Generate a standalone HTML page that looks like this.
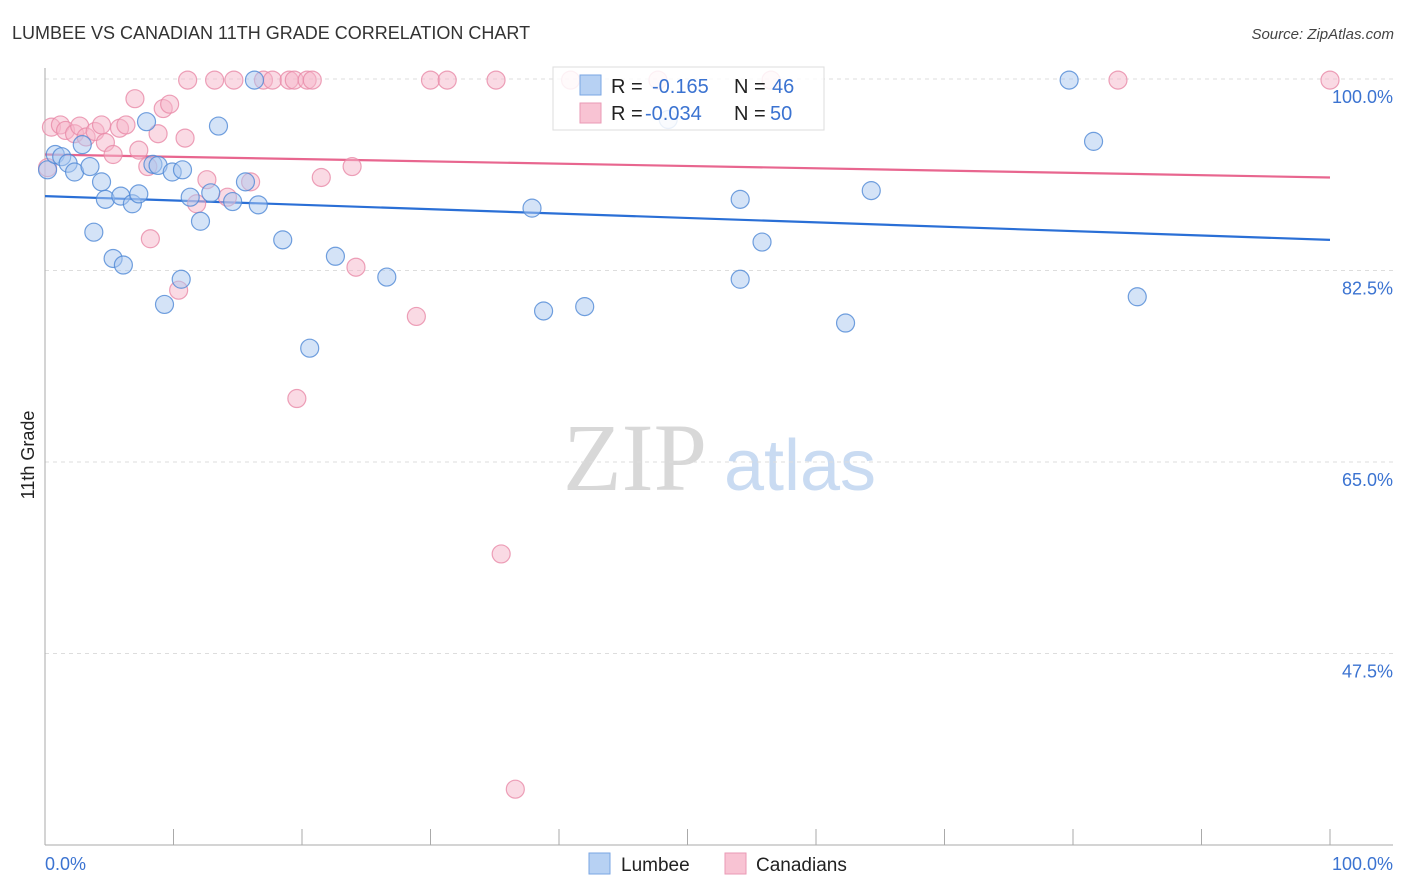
<!DOCTYPE html>
<html><head><meta charset="utf-8"><style>
body{margin:0;background:#fff;width:1406px;height:892px;overflow:hidden;font-family:"Liberation Sans",sans-serif}
svg{display:block}
</style></head><body>
<svg id="chart" width="1406" height="892" xmlns="http://www.w3.org/2000/svg">
<text x="12" y="39" font-size="18" fill="#333" font-family="Liberation Sans">LUMBEE VS CANADIAN 11TH GRADE CORRELATION CHART</text>
<text x="1394" y="39" font-size="15" fill="#444" font-style="italic" text-anchor="end">Source: ZipAtlas.com</text>
<g>
<text x="635" y="490" font-size="96" fill="#d8d8d8" font-family="Liberation Serif" text-anchor="middle">ZIP</text>
<text x="800" y="490" font-size="72" fill="#c9dbf2" text-anchor="middle">atlas</text>
</g>
<g id="grid"></g>
<g id="axes"></g>
<g id="lines"></g>
<g id="points"></g>
<text transform="translate(34,455) rotate(-90)" font-size="18" fill="#222" text-anchor="middle">11th Grade</text>
<g>
<rect x="553" y="67" width="271" height="63" fill="rgba(255,255,255,0.85)" stroke="#ddd"/>
<rect x="580" y="75" width="21" height="20" fill="#b7d1f3" stroke="#7aa6e3"/>
<rect x="580" y="103" width="21" height="20" fill="#f8c3d3" stroke="#ea9ab4"/>
<text x="611" y="93" font-size="20" fill="#222">R = </text><text x="652" y="93" font-size="20" fill="#3b73d1">-0.165</text>
<text x="734" y="93" font-size="20" fill="#222">N = </text><text x="772" y="93" font-size="20" fill="#3b73d1">46</text>
<text x="611" y="120" font-size="20" fill="#222">R = </text><text x="645" y="120" font-size="20" fill="#3b73d1">-0.034</text>
<text x="734" y="120" font-size="20" fill="#222">N = </text><text x="770" y="120" font-size="20" fill="#3b73d1">50</text>
</g>
<g>
<rect x="589" y="853" width="21" height="21" fill="#b7d1f3" stroke="#7aa6e3"/>
<text x="621" y="871" font-size="19" fill="#222">Lumbee</text>
<rect x="725" y="853" width="21" height="21" fill="#f8c3d3" stroke="#ea9ab4"/>
<text x="756" y="871" font-size="19" fill="#222">Canadians</text>
</g>
</svg>
<script>
const yTicks=[100,82.5,65,47.5];
const yTickLabels=["100.0%","82.5%","65.0%","47.5%"];
const xTickLabels=["0.0%","100.0%"];
const lumbeeX=[0.2,0.8,1.3,1.8,2.3,2.9,3.5,3.8,4.4,4.7,5.3,5.9,6.1,6.8,7.3,7.9,8.4,8.8,9.3,9.9,10.6,10.7,11.3,12.1,12.9,13.5,14.6,15.6,16.3,16.6,18.5,20.6,22.6,26.6,37.9,38.8,42.0,48.5,54.1,54.1,55.8,62.3,64.3,79.7,81.6,85.0];
const lumbeeY=[91.7,93.1,92.9,92.3,91.5,94.0,92.0,86.0,90.6,89.0,83.6,89.3,83.0,88.6,89.5,96.1,92.2,92.1,79.4,91.5,81.7,91.7,89.2,87.0,89.6,95.7,88.8,90.6,99.9,88.5,85.3,75.4,83.8,81.9,88.2,78.8,79.2,96.3,89.0,81.7,85.1,77.7,89.8,99.9,94.3,80.1];
const canX=[0.2,0.5,1.2,1.6,2.3,2.7,3.2,3.9,4.4,4.7,5.3,5.8,6.3,7.0,7.3,8.0,8.2,8.8,9.2,9.7,10.4,10.9,11.1,11.8,12.6,13.2,14.2,14.7,16.0,17.0,17.7,19.0,19.4,20.4,20.8,19.6,21.5,23.9,24.2,28.9,30.0,31.3,35.1,35.5,36.6,40.9,47.7,56.5,83.5,100];
const canY=[91.9,95.6,95.8,95.3,95.0,95.7,94.7,95.2,95.8,94.2,93.1,95.5,95.8,98.2,93.5,92.0,85.4,95.0,97.3,97.7,80.7,94.6,99.9,88.6,90.8,99.9,89.2,99.9,90.6,99.9,99.9,99.9,99.9,99.9,99.9,70.8,91.0,92.0,82.8,78.3,99.9,99.9,99.9,56.6,35.1,99.9,99.9,99.9,99.9,99.9];
const lumbeeTrend=[89.3,85.3];
const canTrend=[93.1,91.0];

const NS="http://www.w3.org/2000/svg";
const X0=45,X1=1330,Y100=79,PXPER=191.5/17.5;
const sx=v=>X0+(v/100)*(X1-X0);
const sy=v=>Y100+(100-v)*PXPER;
function mk(tag,attrs,parent){const e=document.createElementNS(NS,tag);for(const k in attrs)e.setAttribute(k,attrs[k]);parent.appendChild(e);return e;}
const grid=document.getElementById('grid'),axes=document.getElementById('axes'),lines=document.getElementById('lines'),pts=document.getElementById('points');
yTicks.forEach((t,i)=>{
  const l=mk('line',{x1:45,x2:1393,y1:sy(t),y2:sy(t),stroke:'#ddd','stroke-dasharray':'4,4'},grid);
  
  
  const tx=mk('text',{x:1393,y:sy(t)+24,'font-size':18,fill:'#3b73d1','text-anchor':'end'},grid);
  tx.textContent=yTickLabels[i];
  
  
});
const ax=mk('line',{x1:45,x2:1393,y1:845,y2:845,stroke:'#aaa'},axes);


const ay=mk('line',{x1:45,x2:45,y1:68,y2:845,stroke:'#aaa'},axes);


for(let i=0;i<=10;i++){
  const t=mk('line',{x1:sx(i*10),x2:sx(i*10),y1:829,y2:845,stroke:'#aaa'},axes);
  
  
}
const xl0=mk('text',{x:45,y:870,'font-size':18,fill:'#3b73d1'},axes);xl0.textContent=xTickLabels[0];


const xl1=mk('text',{x:1393,y:870,'font-size':18,fill:'#3b73d1','text-anchor':'end'},axes);xl1.textContent=xTickLabels[1];


function series(xs,ys,fill,stroke,name){
  xs.forEach((x,i)=>{
    const c=mk('circle',{cx:sx(x),cy:sy(ys[i]),r:9,fill:fill,'fill-opacity':0.5,stroke:stroke,'stroke-width':1.2,'stroke-opacity':0.8},pts);
    
    
  });
}
series(canX,canY,'#f5b5c9','#e88aa8','point-canadians');
series(lumbeeX,lumbeeY,'#a9c7f0','#4f88d6','point-lumbee');
const tl=mk('line',{x1:sx(0),x2:sx(100),y1:sy(lumbeeTrend[0]),y2:sy(lumbeeTrend[1]),stroke:'#2a6fd6','stroke-width':2.2},lines);


const tc=mk('line',{x1:sx(0),x2:sx(100),y1:sy(canTrend[0]),y2:sy(canTrend[1]),stroke:'#e8668f','stroke-width':2.2},lines);


</script>
</body></html>
